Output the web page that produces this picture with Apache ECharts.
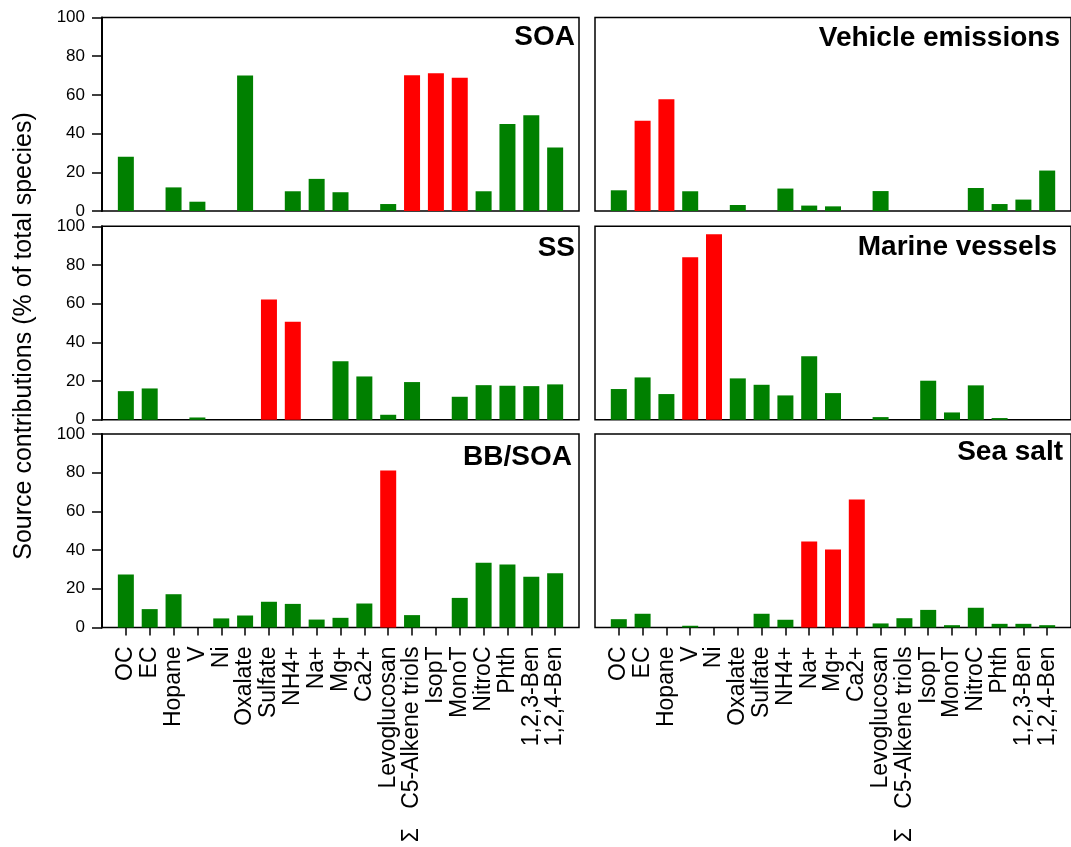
<!DOCTYPE html>
<html>
<head>
<meta charset="utf-8">
<script src="https://cdn.jsdelivr.net/npm/echarts@6/dist/echarts.min.js"></script>
<style>
  html, body { margin: 0; padding: 0; background: #fff; }
  #chart { width: 1071px; height: 847px; }
</style>
</head>
<body>
<div id="chart"></div>
<script>
// Chemical species (x categories) and their axis labels
const species = ['OC', 'EC', 'Hopane', 'V', 'Ni', 'Oxalate', 'Sulfate', 'NH4+', 'Na+', 'Mg+', 'Ca2+',
  'Levoglucosan', 'C5-Alkene triols', 'IsopT', 'MonoT', 'NitroC', 'Phth', '1,2,3-Ben', '1,2,4-Ben'];
const speciesLabels = ['OC', 'EC', 'Hopane', 'V', 'Ni', 'Oxalate', 'Sulfate', 'NH4+', 'Na+', 'Mg+', 'Ca2+',
  'Levoglucosan', '\u03A3   C5-Alkene triols', 'IsopT', 'MonoT', 'NitroC', 'Phth', '1,2,3-Ben', '1,2,4-Ben'];
const yTicks = [0, 20, 40, 60, 80, 100];

// Source factor names
const sourceNames = ['SOA', 'Vehicle emissions', 'SS', 'Marine vessels', 'BB/SOA', 'Sea salt'];

// Source contributions (% of total species), one value per species
const soa      = [28.1, 0, 12.2, 4.8, 0, 70.0, 0, 10.2, 16.6, 9.7, 0, 3.6, 70.2, 71.2, 68.8, 10.2, 45.0, 49.5, 32.8];
const vehicle  = [10.7, 46.6, 57.8, 10.2, 0, 3.1, 0, 11.6, 2.8, 2.4, 0, 10.3, 0, 0, 0, 11.9, 3.6, 5.9, 20.9];
const ss       = [14.8, 16.2, 0, 1.2, 0, 0, 62.2, 50.7, 0, 30.2, 22.4, 2.6, 19.5, 0, 11.9, 17.9, 17.6, 17.4, 18.3];
const marine   = [15.9, 21.9, 13.3, 84.0, 95.9, 21.4, 18.1, 12.6, 32.8, 13.8, 0, 1.4, 0, 20.2, 3.8, 17.8, 0.9, 0, 0];
const bbSoa    = [27.4, 9.5, 17.2, 0, 4.7, 6.2, 13.3, 12.2, 4.1, 5.0, 12.4, 81.2, 6.4, 0, 15.3, 33.4, 32.6, 26.2, 28.1];
const seaSalt  = [4.3, 7.1, 0, 0.9, 0, 0, 7.1, 4.0, 44.5, 40.3, 66.2, 2.1, 4.8, 9.1, 1.2, 10.2, 1.9, 1.9, 1.2];

// Marker species of each source (drawn in red)
const soaMarkers     = ['C5-Alkene triols', 'IsopT', 'MonoT'];
const vehicleMarkers = ['EC', 'Hopane'];
const ssMarkers      = ['Sulfate', 'NH4+'];
const marineMarkers  = ['V', 'Ni'];
const bbSoaMarkers   = ['Levoglucosan'];
const seaSaltMarkers = ['Na+', 'Mg+', 'Ca2+'];

const panelValues  = [soa, vehicle, ss, marine, bbSoa, seaSalt];
const panelMarkers = [soaMarkers, vehicleMarkers, ssMarkers, marineMarkers, bbSoaMarkers, seaSaltMarkers];

const GREEN = '#008000';
const RED = '#ff0000';
const FONT = '"Liberation Sans", Arial, sans-serif';

// Panel geometry
const colLeft = [102, 595];
const colWidth = [477, 478];
const rowTop = [17.5, 226.3, 434];
const panelHeight = 193.5;
const titlePos = [[575, 37], [1060, 38], [575, 248], [1057, 247], [572, 457], [1063, 452]];

const catIdx = species.map((_, i) => i);

const grids = [], xAxes = [], yAxes = [], series = [], graphics = [];
panelValues.forEach((vals, p) => {
  const col = p % 2, row = Math.floor(p / 2);
  const bottomRow = row === 2;
  grids.push({
    left: colLeft[col], top: rowTop[row], width: colWidth[col], height: panelHeight,
    show: true, borderColor: '#000', borderWidth: 1.5, backgroundColor: 'transparent'
  });
  xAxes.push({
    gridIndex: p, type: 'value', min: -1, max: 19, interval: 1,
    axisLine: { show: false, onZero: false },
    splitLine: { show: false },
    axisTick: {
      show: bottomRow, customValues: catIdx, length: 8,
      lineStyle: { color: '#000', width: 1.5 }
    },
    axisLabel: {
      show: bottomRow, customValues: catIdx, rotate: 90, margin: 19,
      fontSize: 23, fontFamily: FONT, color: '#000',
      formatter: v => speciesLabels[v] || ''
    }
  });
  yAxes.push({
    gridIndex: p, type: 'value', min: yTicks[0], max: yTicks[yTicks.length - 1], interval: 20,
    splitLine: { show: false },
    axisLine: { show: col === 0, onZero: false, lineStyle: { color: '#000', width: 2 } },
    axisTick: { show: col === 0, length: 10, lineStyle: { color: '#000', width: 1.5 } },
    axisLabel: { show: col === 0, margin: 17, fontSize: 17, fontFamily: FONT, color: '#000' }
  });
  const markers = panelMarkers[p];
  series.push({
    type: 'bar', xAxisIndex: p, yAxisIndex: p, barWidth: 16, silent: true,
    data: vals.map((v, i) => ({
      value: [i, v],
      itemStyle: { color: markers.includes(species[i]) ? RED : GREEN }
    }))
  });
  graphics.push({
    type: 'text', x: titlePos[p][0], y: titlePos[p][1], z: 100,
    style: {
      text: sourceNames[p], font: 'bold 28px ' + FONT, fill: '#000',
      align: 'right', verticalAlign: 'middle', textAlign: 'right', textVerticalAlign: 'middle'
    }
  });
});

graphics.push({
  type: 'text', x: 24, y: 336, rotation: Math.PI / 2, z: 100,
  style: {
    text: 'Source contributions (% of total species)', font: '25px ' + FONT, fill: '#000',
    align: 'center', verticalAlign: 'middle', textAlign: 'center', textVerticalAlign: 'middle'
  }
});

const chart = echarts.init(document.getElementById('chart'), null, { renderer: 'canvas' });
chart.setOption({
  animation: false,
  backgroundColor: '#fff',
  grid: grids,
  xAxis: xAxes,
  yAxis: yAxes,
  series: series,
  graphic: graphics
});
</script>
</body>
</html>
